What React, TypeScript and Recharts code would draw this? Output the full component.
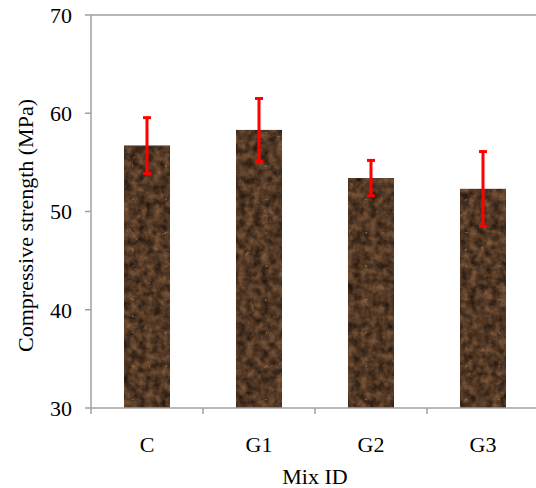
import React from 'react';
import { BarChart, Bar, XAxis, YAxis, ErrorBar, ReferenceLine } from 'recharts';

const mixIds = ['C', 'G1', 'G2', 'G3'];
const strength = [56.7, 58.3, 53.4, 52.3];
const strengthError = [2.85, 3.2, 1.8, 3.8];
const yTicks = [30, 40, 50, 60, 70];

const data = mixIds.map((id, i) => ({ id, strength: strength[i], err: strengthError[i] }));

const axisColor = '#a0a0a0';
const font = '"Liberation Serif", "Times New Roman", serif';

// marble-like brown fill for the bars
const MarbleBar = (props: any) => {
  const { x, y, width, height } = props;
  if (!height || height <= 0) return null;
  return (
    <g>
      <rect x={x} y={y} width={width} height={height} fill="#553a26" />
      <rect x={x} y={y} width={width} height={height} fill="#553a26" filter="url(#marble)" />
    </g>
  );
};

const XTick = (props: any) => {
  const { x, y, payload } = props;
  const half = payload.offset || 0;
  return (
    <g>
      <line x1={x - half} y1={y} x2={x - half} y2={y + 6} stroke={axisColor} strokeWidth={1.5} />
      <text x={x} y={y + 44} textAnchor="middle" style={{ fontFamily: font }} fontSize={22} fill="#000">
        {payload.value}
      </text>
    </g>
  );
};

const App: React.FC = () => {
  return (
    <div style={{ position: 'absolute', left: 0, top: 0, width: 536, height: 488, overflow: 'hidden', background: '#fff' }}>
      <svg width={0} height={0} style={{ position: 'absolute' }}>
        <defs>
          <filter id="marble" x="0" y="0" width="100%" height="100%" colorInterpolationFilters="sRGB">
            <feTurbulence type="fractalNoise" baseFrequency="0.13" numOctaves={4} seed={3} result="noise" />
            <feColorMatrix
              in="noise"
              type="matrix"
              values="0.5 0 0 0 0.07  0.36 0 0 0 0.04  0.24 0 0 0 0.025  0 0 0 0 1"
              result="brown"
            />
            <feTurbulence type="turbulence" baseFrequency="0.03" numOctaves={3} seed={11} result="vein" />
            <feColorMatrix
              in="vein"
              type="matrix"
              values="0 0 0 0 0.6  0 0 0 0 0.48  0 0 0 0 0.33  -9 0 0 0 0.6"
              result="veinColor"
            />
            <feMerge result="merged">
              <feMergeNode in="brown" />
              <feMergeNode in="veinColor" />
            </feMerge>
            <feComposite in="merged" in2="SourceGraphic" operator="in" />
          </filter>
        </defs>
      </svg>
      <BarChart width={548} height={488} data={data} margin={{ top: 15, right: 9, left: 0, bottom: 0 }}>
        <ReferenceLine y={70} stroke={axisColor} strokeWidth={1.5} ifOverflow="visible" />
        <XAxis
          dataKey="id"
          height={80}
          tickLine={false}
          tickSize={0}
          tickMargin={0}
          tick={<XTick />}
          stroke={axisColor}
          strokeWidth={1.5}
          interval={0}
          label={(p: any) => {
            const vb = p.viewBox;
            return (
              <text x={vb.x + vb.width / 2} y={vb.y + 76} textAnchor="middle" style={{ fontFamily: font }} fontSize={22} fill="#000">
                Mix ID
              </text>
            );
          }}
        />
        <YAxis
          width={91}
          domain={[30, 70]}
          ticks={yTicks}
          allowDataOverflow
          tickSize={6}
          tickMargin={13}
          stroke={axisColor}
          strokeWidth={1.5}
          tick={{ fill: '#000', fontSize: 22, style: { fontFamily: font } }}
          label={(p: any) => {
            const vb = p.viewBox;
            const cx = 25;
            const cy = vb.y + vb.height / 2 + 14;
            return (
              <text
                x={cx}
                y={cy}
                transform={`rotate(-90, ${cx}, ${cy})`}
                textAnchor="middle"
                dominantBaseline="central"
                style={{ fontFamily: font }}
                fontSize={22}
                fill="#000"
              >
                Compressive strength (MPa)
              </text>
            );
          }}
        />
        <Bar dataKey="strength" barSize={46} shape={<MarbleBar />} isAnimationActive={false}>
          <ErrorBar dataKey="err" width={4} stroke="#ff0000" strokeWidth={3} direction="y" />
        </Bar>
      </BarChart>
    </div>
  );
};

export default App;
